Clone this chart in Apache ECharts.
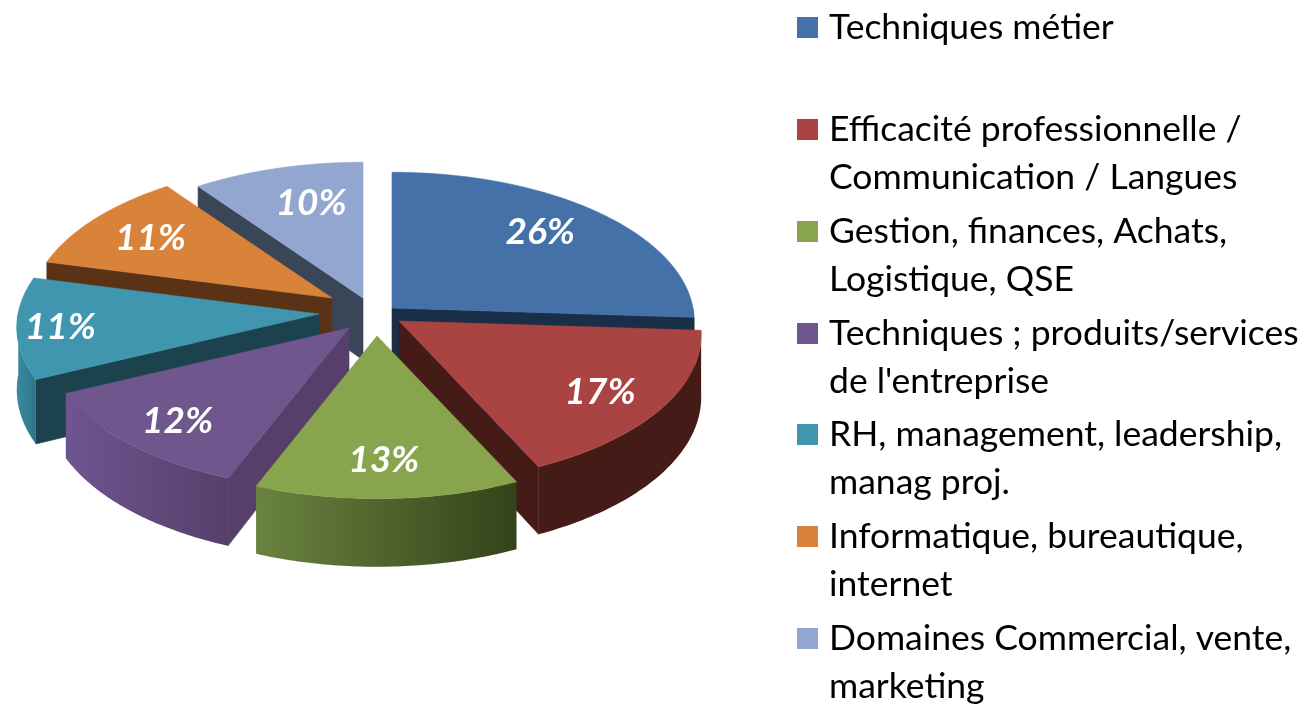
<!DOCTYPE html>
<html>
<head>
<meta charset="utf-8">
<style>html,body{margin:0;padding:0;background:#fff}#c{width:1305px;height:705px}</style>
<script src="https://cdn.jsdelivr.net/npm/echarts@6/dist/echarts.min.js"></script>
</head>
<body>
<div id="c"></div>
<script>
var categories = ["Techniques métier","Efficacité professionnelle /\nCommunication / Langues","Gestion, finances, Achats,\nLogistique, QSE","Techniques ; produits/services\nde l'entreprise","RH, management, leadership,\nmanag proj.","Informatique, bureautique,\ninternet","Domaines Commercial, vente,\nmarketing"];
var shares = [26,17,13,12,11,11,10];
var topColors = ["#4472a8","#a94442","#88a44c","#6f568c","#3f96ae","#d8823a","#92a6cf"];
var wallColors = ["#1a2e48","#451b18","#4d6128","#573f6b","#1b424d","#5a3317","#3a4558"];
var outerLeft = ["#1a2e48","#451b18","#6a833f","#6e5590","#3a8ba1","#5a3317","#3a4558"];
var outerRight = ["#1a2e48","#451b18","#33431a","#563f6a","#2f7488","#5a3317","#3a4558"];
var legendCentres = [27,129,231,333,434,536,638];
// slice explosion offsets from the pie centre, and label placement relative to each slice
var explodeX = [32,39,17,-11,-41,-28,3];
var explodeY = [-8,5,20,12,-2,-18,-18];
var labelFrac = [0.76,0.78,0.76,0.78,0.87,0.77,0.73];
var labelShiftX = [-11,-1,-1,-2,4,3,12];
var labelShiftY = [-2,4,3,4,1,2,2];

var centreX = 360, centreY = 316, radiusX = 301, radiusY = 148, depth = 62, persp = 0.09;
var total = shares.reduce(function(a,b){return a+b;},0);
var starts = [], acc = 0;
shares.forEach(function(v){ starts.push(acc); acc += v; });
function rad(p){ return p/total*2*Math.PI; }
function project(i, a, r, h){
  var u = Math.sin(a)*r, v = -Math.cos(a)*r, s = 1/(1-persp*v);
  return [centreX+explodeX[i]+radiusX*u*s, centreY+explodeY[i]+radiusY*v*s+h*depth*s];
}
function midAngle(i){ return rad(starts[i]+shares[i]/2); }
var order = shares.map(function(_,i){return i;}).sort(function(a,b){
  return Math.cos(midAngle(b))-Math.cos(midAngle(a));
});
function poly(points, fill){
  return {type:'polygon', shape:{points:points}, style:{fill:fill, stroke:fill, lineWidth:0.6}};
}
function renderSlice(params, api){
  var i = api.value(1), a0 = rad(starts[i]), a1 = a0+rad(api.value(0));
  var kids = [], n = 60, arc = [], k;
  for(k=0;k<=n;k++){ arc.push(a0+(a1-a0)*k/n); }
  // radial walls: the clockwise edge faces the viewer on the right half, the start edge on the left
  [[a0,false],[a1,true]].forEach(function(e){
    var c = project(i,0,0,0), o = project(i,e[0],1,0);
    var facing = e[1] ? o[0]-c[0] > 0 : o[0]-c[0] < 0;
    if(facing){
      kids.push(poly([c,o,project(i,e[0],1,1),project(i,0,0,1)], wallColors[i]));
    }
  });
  // outer wall for the front part of the arc
  var front = arc.filter(function(a){ return Math.cos(a) <= 0.02; });
  if(front.length>1){
    var pts = front.map(function(a){return project(i,a,1,0);});
    var low = front.slice().reverse().map(function(a){return project(i,a,1,1);});
    kids.push({type:'polygon', shape:{points:pts.concat(low)}, style:{
      fill:new echarts.graphic.LinearGradient(0,0,1,0,[{offset:0,color:outerLeft[i]},{offset:1,color:outerRight[i]}])
    }});
  }
  // top face
  var topPts = [project(i,0,0,0)].concat(arc.map(function(a){return project(i,a,1,0);}));
  kids.push(poly(topPts, topColors[i]));
  // value label
  var lp = project(i,midAngle(i),labelFrac[i],0);
  kids.push({type:'text', x:lp[0]+labelShiftX[i], y:lp[1]+labelShiftY[i], style:{
    text:api.value(0)+'%', fill:'#fff', font:'italic bold 37px Lato, "Open Sans", sans-serif',
    align:'center', verticalAlign:'middle'
  }});
  return {type:'group', children:kids};
}
var legendGraphics = [];
categories.forEach(function(name,i){
  legendGraphics.push({type:'rect', shape:{x:797,y:legendCentres[i]-10,width:21,height:21}, style:{fill:topColors[i]}});
  legendGraphics.push({type:'text', x:829, y:legendCentres[i]-23, style:{
    text:name, fill:'#000', font:'35.5px Lato, "Open Sans", sans-serif', lineHeight:48, align:'left', verticalAlign:'top'
  }});
});
var chart = echarts.init(document.getElementById('c'), null, {renderer:'canvas'});
chart.setOption({
  animation:false,
  backgroundColor:'#fff',
  series:[{
    type:'custom', coordinateSystem:'none', silent:true,
    data:order.map(function(i){ return {name:categories[i], value:[shares[i], i]}; }),
    renderItem:renderSlice
  }],
  graphic:legendGraphics
});
</script>
</body>
</html>
